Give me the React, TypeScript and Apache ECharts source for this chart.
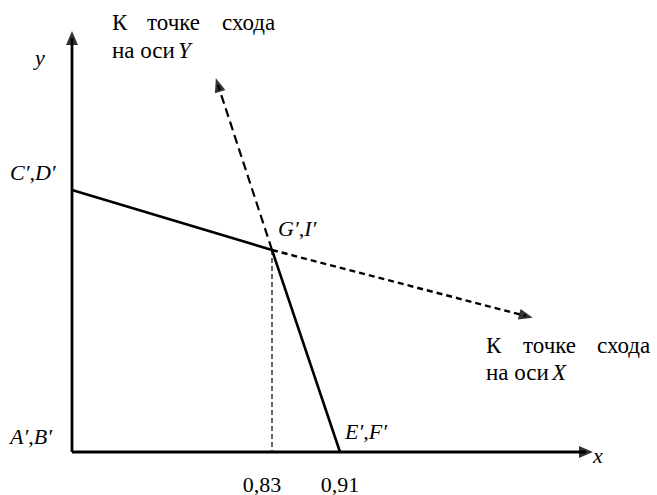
import React, { useEffect, useRef } from "react";
import * as echarts from "echarts";

// Drawing coordinates: x = units right of the origin, y = units above the origin
const origin: number[] = [0, 0];
const yAxisTip: number[] = [0, 414];
const xAxisTip: number[] = [514, 0];
const pointCD: number[] = [0, 262];
const pointGI: number[] = [200, 202];
const pointEF: number[] = [268, 0];
const vanishY: number[] = [146, 367];
const vanishX: number[] = [454, 136];
const footGI: number[] = [200, 0];

const tickLabels: string[] = ["0,83", "0,91"];
const pointLabels: string[] = ["C′,D′", "G′,I′", "A′,B′", "E′,F′"];
const axisNames: string[] = ["x", "y"];
const noteWords: string[] = ["К", "точке", "схода"];
const noteLine2: string = "на оси";
const noteAxes: string[] = ["Y", "X"];

function txt(text: string, x: number, cy: number, opts: any = {}) {
  const size = opts.fontSize || 22;
  const style: any = { text, fontFamily: "Liberation Serif", fontSize: size, fill: "#000" };
  if (opts.italic) style.fontStyle = "italic";
  if (opts.align) style.align = opts.align;
  return { type: "text", x, y: cy - size / 2, style };
}

function segment(a: number[], b: number[], lineStyle: any) {
  return { type: "line", data: [a, b], showSymbol: false, silent: true, lineStyle, z: 2 };
}

function arrowItem(from: number[], to: number[]) {
  const deg = (Math.atan2(to[1] - from[1], to[0] - from[0]) * 180) / Math.PI;
  return { value: to, symbolRotate: deg - 90 };
}

export default function App() {
  const ref = useRef<HTMLDivElement>(null);
  useEffect(() => {
    if (!ref.current) return;
    const chart = echarts.init(ref.current, null, { renderer: "svg" });
    const solid = { color: "#000", width: 2.6, type: "solid" };
    const axis = { color: "#000", width: 2.8, type: "solid" };
    const longDash = { color: "#000", width: 2.2, type: [9, 5] };
    const shortDash = { color: "#000", width: 2.4, type: [6, 4] };
    const thinDash = { color: "#000", width: 1.2, type: [5, 3] };

    chart.setOption({
      animation: false,
      grid: { left: 0, right: 0, top: 0, bottom: 0 },
      xAxis: { type: "value", min: -72, max: 585, show: false },
      yAxis: { type: "value", min: -43, max: 452, show: false },
      series: [
        { type: "line", data: [pointCD, pointGI, pointEF], showSymbol: false, silent: true, lineStyle: solid, z: 3 },
        segment(origin, yAxisTip, axis),
        segment(origin, xAxisTip, axis),
        segment(pointGI, vanishY, longDash),
        segment(pointGI, vanishX, shortDash),
        segment(pointGI, footGI, thinDash),
        {
          type: "scatter",
          silent: true,
          symbol: "triangle",
          symbolSize: [12, 14],
          itemStyle: { color: "#000" },
          z: 4,
          data: [arrowItem(origin, yAxisTip), arrowItem(origin, xAxisTip)],
        },
        {
          type: "scatter",
          silent: true,
          symbol: "triangle",
          symbolSize: [11, 14],
          itemStyle: { color: "#000" },
          z: 4,
          data: [arrowItem(pointGI, vanishY), arrowItem(pointGI, vanishX)],
        },
      ],
      graphic: [
        txt(axisNames[1], 35, 57, { italic: true }),
        txt(axisNames[0], 593, 455, { italic: true }),
        txt(pointLabels[0], 10, 172, { italic: true }),
        txt(pointLabels[1], 278, 228, { italic: true }),
        txt(pointLabels[2], 10, 436, { italic: true }),
        txt(pointLabels[3], 345, 431, { italic: true }),
        txt(tickLabels[0], 262, 484, { align: "center" }),
        txt(tickLabels[1], 340, 484, { align: "center" }),
        txt(noteWords[0], 112, 22, { fontSize: 23 }),
        txt(noteWords[1], 147, 22, { fontSize: 23 }),
        txt(noteWords[2], 222, 22, { fontSize: 23 }),
        txt(noteLine2, 112, 50, { fontSize: 23 }),
        txt(noteAxes[0], 178, 50, { fontSize: 23, italic: true }),
        txt(noteWords[0], 486, 345, { fontSize: 23 }),
        txt(noteWords[1], 523, 345, { fontSize: 23 }),
        txt(noteWords[2], 597, 345, { fontSize: 23 }),
        txt(noteLine2, 486, 372, { fontSize: 23 }),
        txt(noteAxes[1], 552, 372, { fontSize: 23, italic: true }),
      ],
    });
    return () => chart.dispose();
  }, []);
  return (
    <div ref={ref} style={{ position: "fixed", left: 0, top: 0, width: 657, height: 495, background: "#fff" }} />
  );
}
